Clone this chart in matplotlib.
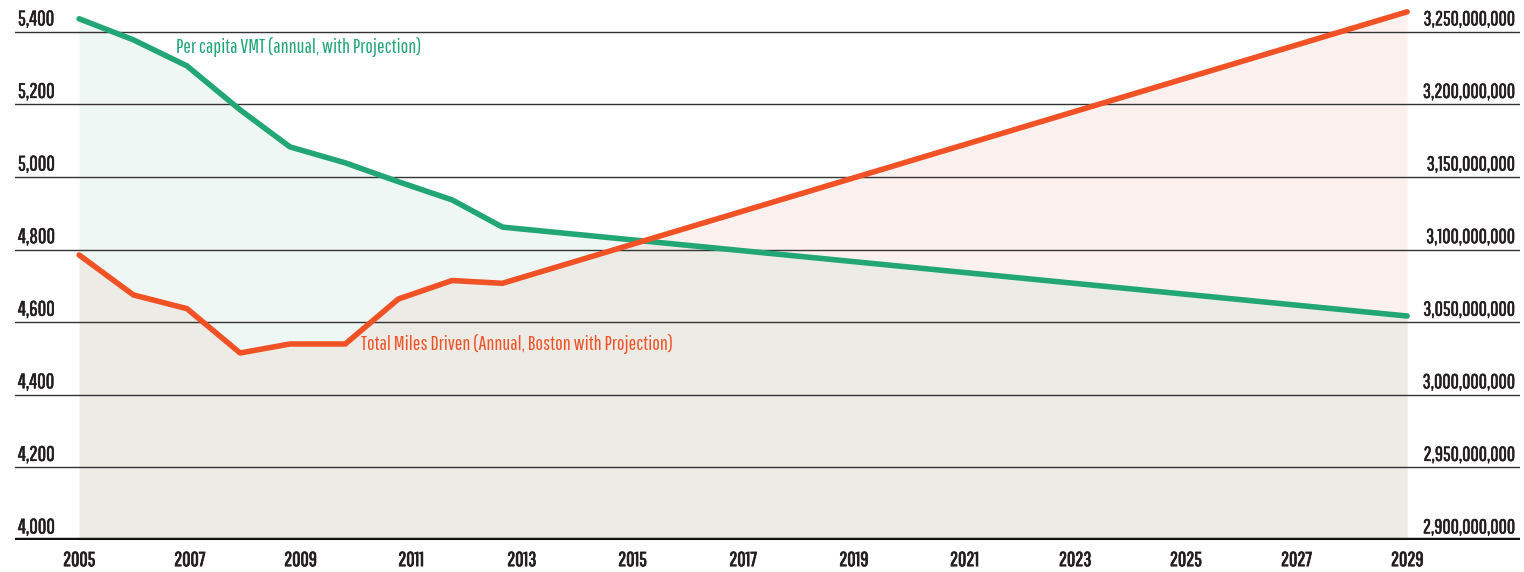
import numpy as np
import matplotlib.pyplot as plt
import matplotlib.patheffects as pe
from matplotlib.transforms import blended_transform_factory

plt.rcParams['font.family'] = ['Pathway Gothic One', 'Barlow Condensed', 'Archivo Narrow', 'DejaVu Sans']

# data (x in years)
years = [2005, 2005.98, 2006.95, 2007.91, 2008.81, 2009.81, 2010.77, 2011.74, 2012.65, 2029]
per_capita_vmt = [5436, 5378, 5306, 5185, 5083, 5039, 4987, 4937, 4862, 4617]
total_miles = [3.0963e9, 3.0688e9, 3.0593e9, 3.0288e9, 3.0350e9, 3.0350e9,
               3.0660e9, 3.0787e9, 3.0768e9, 3.2638e9]

left_ticks = [4000, 4200, 4400, 4600, 4800, 5000, 5200, 5400]
right_ticks = [2.90e9, 2.95e9, 3.00e9, 3.05e9, 3.10e9, 3.15e9, 3.20e9, 3.25e9]
year_ticks = list(range(2005, 2030, 2))

green = '#22a676'
orange = '#f05226'
ink = '#231f20'

# left axis value <-> right axis value
def to_left(v):
    return 4000 + (np.asarray(v) - 2.9e9) / 250000.0

fig = plt.figure(figsize=(15.24, 5.72), dpi=100)
ax = fig.add_axes([0.0098, 0.056, 0.9876, 0.9353])
ax.set_xlim(2003.84, 2031.04)
ax.set_ylim(4000, 5474)
ax2 = ax.twinx()
ax2.set_ylim(2.9e9, 2.9e9 + (5474 - 4000) * 250000)

# fills (dense grid only for the shaded areas)
xs = np.linspace(years[0], years[-1], 2000)
g = np.interp(xs, years, per_capita_vmt)
o = np.interp(xs, years, to_left(total_miles))
lo = np.minimum(g, o)
ax.fill_between(xs, 4000, lo, color='#ecebe6', lw=0, zorder=1)
ax.fill_between(xs, lo, g, where=g >= o, color='#eef7f3', lw=0, zorder=1)
ax.fill_between(xs, lo, o, where=o >= g, color='#fdf1ef', lw=0, zorder=1)

# grid lines and labels
bold = [pe.withStroke(linewidth=0.4, foreground=ink)]
trans_l = blended_transform_factory(ax.transAxes, ax.transData)
for t, rt in zip(left_ticks, right_ticks):
    if t == 4000:
        ax.axhline(t, color='#111111', lw=3.2, zorder=2)
    else:
        ax.axhline(t, color='#333333', lw=1.0, zorder=2)
    ax.text(0.002, t + 7, f'{t:,}', transform=trans_l, ha='left', va='bottom',
            fontsize=15, color=ink, path_effects=bold)
    ax.text(0.9965, t + 7, f'{int(rt):,}', transform=trans_l, ha='right', va='bottom',
            fontsize=14.5, color=ink, path_effects=bold)

ax.plot(years, per_capita_vmt, color=green, lw=4, solid_capstyle='round', zorder=4)
ax2.plot(years, total_miles, color=orange, lw=4, solid_capstyle='round', zorder=4)

ax.text(2006.75, 5357, 'Per capita VMT (annual, with Projection)', color=green,
        fontsize=14.5, va='center', ha='left', zorder=5)
ax.text(2010.1, 4541, 'Total Miles Driven (Annual, Boston with Projection)', color=orange,
        fontsize=14.5, va='center', ha='left', zorder=5)

ax.set_xticks(year_ticks)
ax.set_xticklabels([str(y) for y in year_ticks], fontsize=14.5, color=ink)
for lbl in ax.get_xticklabels():
    lbl.set_path_effects([pe.withStroke(linewidth=0.6, foreground=ink)])
ax.tick_params(axis='x', length=0, pad=8)
ax.set_yticks([])
ax2.set_yticks([])
for a in (ax, ax2):
    for s in a.spines.values():
        s.set_visible(False)
ax2.set_zorder(ax.get_zorder() + 1)
ax2.patch.set_visible(False)

fig.savefig('out.png', dpi=100)
